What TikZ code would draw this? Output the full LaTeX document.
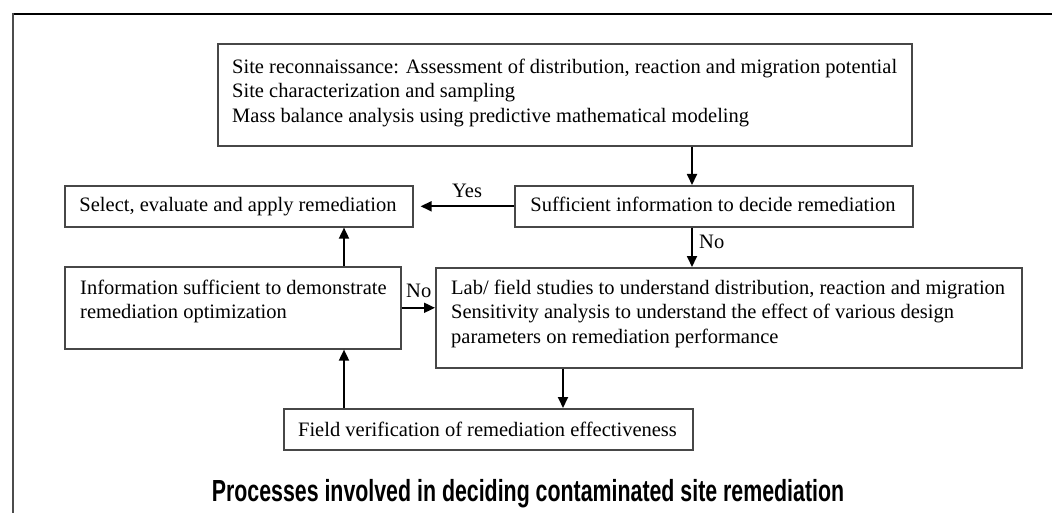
\documentclass[tikz,border=0pt]{standalone}
\usepackage{fontspec}
\setmainfont{Liberation Serif}
\newfontfamily\capfont{Liberation Sans}
\usetikzlibrary{arrows.meta}
\begin{document}
\begin{tikzpicture}[x=1pt,y=-1pt,
  bx/.style={draw=black!72, line width=1.6pt, inner sep=0pt, anchor=north west},
  txt/.style={anchor=north west, inner sep=0pt, align=left, font=\fontsize{20.5}{24.5}\selectfont},
  one/.style={anchor=base, inner sep=0pt, font=\fontsize{20.5}{24.5}\selectfont},
  lbl/.style={anchor=base west, inner sep=0pt, font=\fontsize{20.5}{24.5}\selectfont},
  arr/.style={-{Triangle[length=11pt,width=10pt]}, line width=1.8pt, black}]
\useasboundingbox (0,0) rectangle (1052,513);
% frame
\draw[line width=2pt, black] (12,14) -- (1052,14);
\draw[line width=2pt, black!70] (13,13) -- (13,513);
% boxes
\node[bx, minimum width=694pt, minimum height=102pt] (top) at (217,43) {};
\node[bx, minimum width=398pt, minimum height=41pt] (suff) at (514,185) {};
\node[bx, minimum width=348pt, minimum height=41pt] (sel) at (64,185) {};
\node[bx, minimum width=336pt, minimum height=82pt] (info) at (64,266) {};
\node[bx, minimum width=586pt, minimum height=100pt] (lab) at (435,267) {};
\node[bx, minimum width=409pt, minimum height=41pt] (field) at (283,408) {};
% texts
\node[txt] (toptxt) at (232,55.9) {\strut Site reconnaissance: Assessment of distribution, reaction and migration potential\\
Site characterization and sampling\\
Mass balance analysis using predictive mathematical modeling};
\node[one] (selt) at (238,212) {Select, evaluate and apply remediation};
\node[one] (sufft) at (713,212) {Sufficient information to decide remediation};
\node[txt] (infot) at (80,276.9) {\strut Information sufficient to demonstrate\\
remediation optimization};
\node[txt] (labt) at (451,276.9) {\strut Lab/ field studies to understand distribution, reaction and migration\\
Sensitivity analysis to understand the effect of various design\\
parameters on remediation performance};
\node[one] (fieldt) at (487.5,436) {Field verification of remediation effectiveness};
% columns
\coordinate (c1) at (692,0);
\coordinate (c2) at (344,0);
\coordinate (c3) at (563,0);
% connectors
\draw[arr] (top.south -| c1) -- (suff.north -| c1);
\draw[arr, shorten >=7pt] (suff.west) -- (sel.east);
\draw[arr] (suff.south -| c1) -- (lab.north -| c1);
\draw[arr] (info.east) -- (info.east -| lab.west);
\draw[arr] (info.north -| c2) -- (sel.south -| c2);
\draw[arr] (lab.south -| c3) -- (field.north -| c3);
\draw[arr] (field.north -| c2) -- (info.south -| c2);
% labels
\node[lbl] (yes) at (452,198) {Yes};
\node[lbl] (no1) at (699,248) {No};
\node[lbl] (no2) at (406,297) {No};
% caption
\node[anchor=base, inner sep=0pt] (cap) at (528,501) {\scalebox{0.70}[1]{\capfont\bfseries\fontsize{30.5}{36}\selectfont Processes involved in deciding contaminated site remediation}};
\end{tikzpicture}
\end{document}
